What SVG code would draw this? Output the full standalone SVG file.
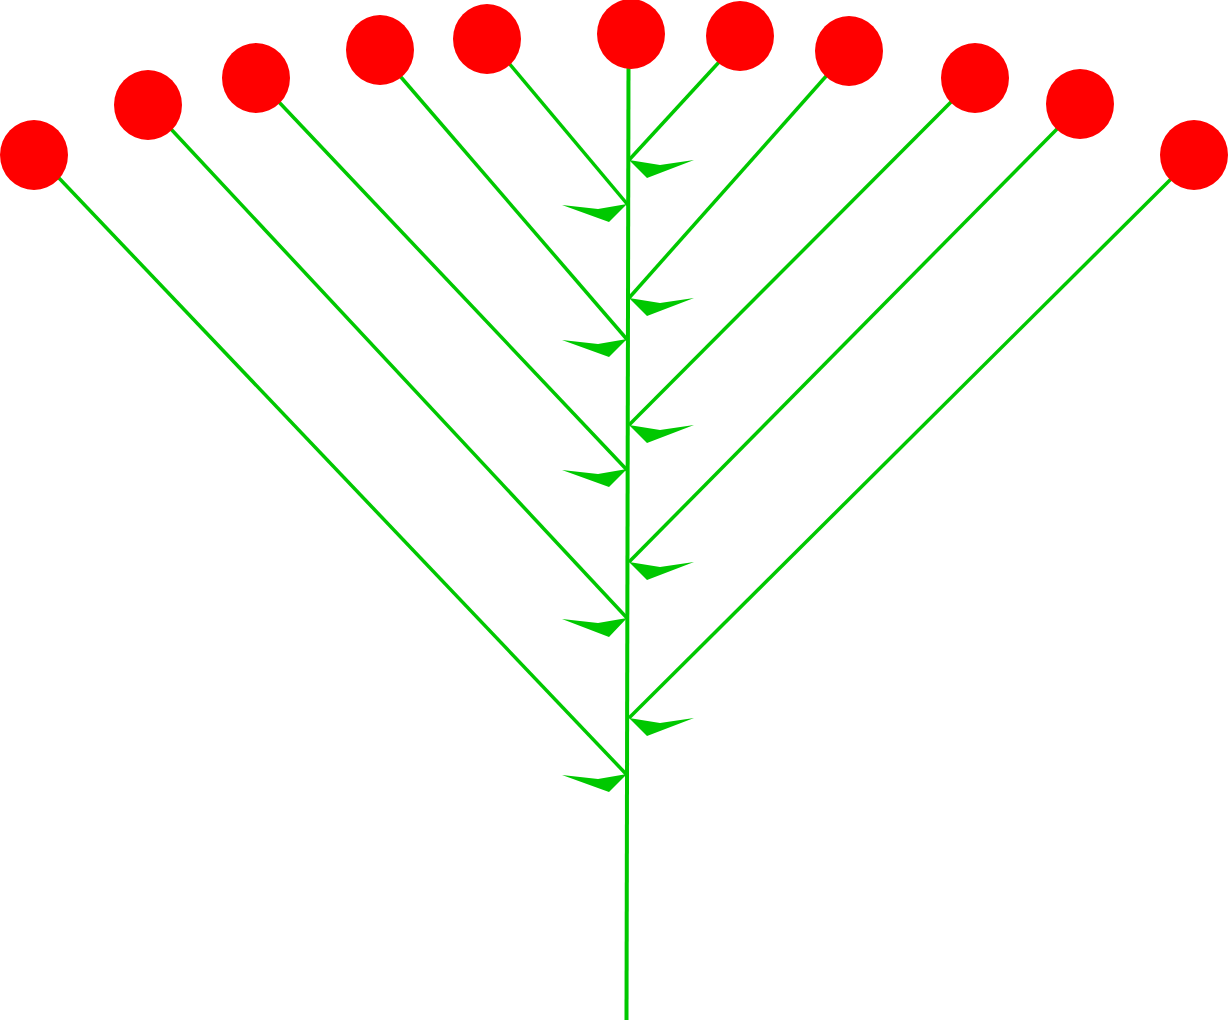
<svg xmlns="http://www.w3.org/2000/svg" width="1229" height="1024" viewBox="0 0 1229 1024">
<style>
.st{stroke:#00c800;stroke-width:3.5;fill:none;stroke-linecap:butt}
.stem{stroke-width:4}
.lf{fill:#00c800;stroke:none}
.fl{fill:#ff0000;stroke:none}
</style>
<rect width="1229" height="1024" fill="#ffffff"/>
<g id="connectors">
<line class="st stem" x1="628.5" y1="66" x2="626.5" y2="1020"/>
<line class="st" x1="58" y1="177" x2="627" y2="775"/>
<line class="st" x1="170" y1="128" x2="627" y2="618"/>
<line class="st" x1="277" y1="100" x2="627" y2="470"/>
<line class="st" x1="400" y1="76" x2="627.5" y2="340"/>
<line class="st" x1="508" y1="62" x2="628" y2="205"/>
<line class="st" x1="720" y1="61" x2="629" y2="160"/>
<line class="st" x1="828" y1="74" x2="629" y2="298"/>
<line class="st" x1="952" y1="101" x2="629" y2="425"/>
<line class="st" x1="1058" y1="128" x2="629" y2="562"/>
<line class="st" x1="1172" y1="178" x2="629" y2="718"/>
<polygon class="lf" points="562,205 598,209 627,204 609,222"/>
<polygon class="lf" points="562,340 598,344 627,339 609,357"/>
<polygon class="lf" points="562,470 598,474 627,469 609,487"/>
<polygon class="lf" points="562,619 598,623 627,618 609,637"/>
<polygon class="lf" points="562,775 598,779 627,774 609,792"/>
<polygon class="lf" points="629,160 660,165 694,160 647,178"/>
<polygon class="lf" points="629,298 660,303 694,298 647,316"/>
<polygon class="lf" points="629,425 660,430 694,425 647,443"/>
<polygon class="lf" points="629,562 660,567 694,562 647,580"/>
<polygon class="lf" points="629,718 660,723 694,718 647,736"/>
</g>
<g id="flower1"><ellipse class="fl" cx="34" cy="155" rx="34" ry="35"/></g>
<g id="flower2"><ellipse class="fl" cx="148" cy="105" rx="34" ry="35"/></g>
<g id="flower3"><ellipse class="fl" cx="256" cy="78" rx="34" ry="35"/></g>
<g id="flower4"><ellipse class="fl" cx="380" cy="50" rx="34" ry="35"/></g>
<g id="flower5"><ellipse class="fl" cx="487" cy="39" rx="34" ry="35"/></g>
<g id="flower6"><ellipse class="fl" cx="631" cy="34" rx="34" ry="35"/></g>
<g id="flower7"><ellipse class="fl" cx="740" cy="36" rx="34" ry="35"/></g>
<g id="flower8"><ellipse class="fl" cx="849" cy="51" rx="34" ry="35"/></g>
<g id="flower9"><ellipse class="fl" cx="975" cy="78" rx="34" ry="35"/></g>
<g id="flower10"><ellipse class="fl" cx="1080" cy="104" rx="34" ry="35"/></g>
<g id="flower11"><ellipse class="fl" cx="1194" cy="155" rx="34" ry="35"/></g>
</svg>
